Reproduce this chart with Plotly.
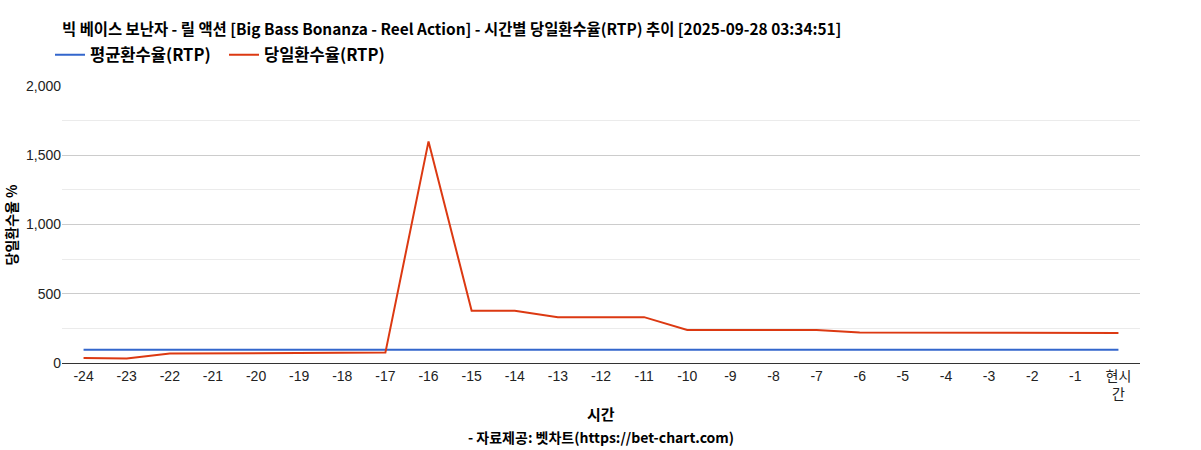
import plotly.graph_objs as go

# x categories (hours before now)
hours = ['-24', '-23', '-22', '-21', '-20', '-19', '-18', '-17', '-16', '-15',
         '-14', '-13', '-12', '-11', '-10', '-9', '-8', '-7', '-6', '-5',
         '-4', '-3', '-2', '-1', '현시간']
hour_labels = hours[:-1] + ['현시<br>간']

avg_rtp = [95, 95, 95, 95, 95, 95, 95, 95, 95, 95,
           95, 95, 95, 95, 95, 95, 95, 95, 95, 95,
           95, 95, 95, 95, 95]
daily_rtp = [36, 33, 68, 69, 71, 72, 74, 75, 1600, 377,
             377, 331, 331, 331, 239, 239, 239, 239, 220, 220,
             220, 220, 220, 218, 216]

TITLE = '빅 베이스 보난자 - 릴 액션 [Big Bass Bonanza - Reel Action] - 시간별 당일환수율(RTP) 추이 [2025-09-28 03:34:51]'
FONT = 'Liberation Sans, Arial, Noto Sans CJK KR, sans-serif'
BOLD_FONT = 'Noto Sans CJK KR, Liberation Sans, sans-serif'

W, H = 1201, 450
ML, MR, MT, MB = 62, 61, 86, 87
PW, PH = W - ML - MR, H - MT - MB

fig = go.Figure()
fig.add_trace(go.Scatter(x=hours, y=avg_rtp, mode='lines', name='<b>평균환수율(RTP)</b>',
                         line=dict(color='#3366cc', width=2)))
fig.add_trace(go.Scatter(x=hours, y=daily_rtp, mode='lines', name='<b>당일환수율(RTP)</b>',
                         line=dict(color='#dc3912', width=2)))

fig.update_layout(
    width=W,
    height=H,
    paper_bgcolor='white',
    plot_bgcolor='white',
    margin=dict(l=ML, r=MR, t=MT, b=MB, autoexpand=False),
    font=dict(family=FONT, size=13, color='#222'),
    title=dict(
        text='<b>' + TITLE + '</b>',
        x=ML / W, xanchor='left',
        y=1 - 30 / H, yanchor='middle',
        font=dict(family=BOLD_FONT, size=15.4, color='#000'),
    ),
    showlegend=True,
    legend=dict(
        orientation='h',
        x=-12 / PW, xanchor='left',
        y=1 + 31 / PH, yanchor='middle',
        font=dict(family=BOLD_FONT, size=16.5, color='#000'),
        itemwidth=30,
        entrywidth=129,
        entrywidthmode='pixels',
        traceorder='normal',
        bgcolor='rgba(0,0,0,0)',
    ),
    xaxis=dict(
        type='category',
        tickmode='array',
        tickvals=hours,
        ticktext=hour_labels,
        range=[-0.5, 24.5],
        showgrid=False,
        showline=True,
        linecolor='#333',
        ticks='',
        automargin=False,
        tickfont=dict(family=FONT, size=14, color='#222'),
        fixedrange=True,
    ),
    yaxis=dict(
        range=[0, 2000],
        dtick=500,
        tickformat=',',
        showgrid=True,
        gridcolor='#cccccc',
        zeroline=False,
        showline=False,
        ticks='',
        automargin=False,
        tickfont=dict(family=FONT, size=14, color='#222'),
        minor=dict(dtick=250, showgrid=True, gridcolor='#ebebeb'),
        fixedrange=True,
    ),
)

fig.add_annotation(text='<b>당일환수율 %</b>', xref='paper', yref='paper',
                   x=-52 / PW, y=0.5, textangle=-90, showarrow=False,
                   xanchor='center', yanchor='middle',
                   font=dict(family=BOLD_FONT, size=14, color='#000'))
fig.add_annotation(text='<b>시간</b>', xref='paper', yref='paper',
                   x=0.5, y=-50 / PH, showarrow=False, yanchor='middle',
                   font=dict(family=BOLD_FONT, size=15, color='#000'))
fig.add_annotation(text='<b>- 자료제공: 벳차트(https://bet-chart.com)</b>', xref='paper', yref='paper',
                   x=0.5, y=-74 / PH, showarrow=False, yanchor='middle',
                   font=dict(family=BOLD_FONT, size=14, color='#000'))

# drop the default body margin so the figure fills the window exactly
fig.write_html("out.html", config={'displayModeBar': False},
               post_script="document.body.style.margin = '0';")
